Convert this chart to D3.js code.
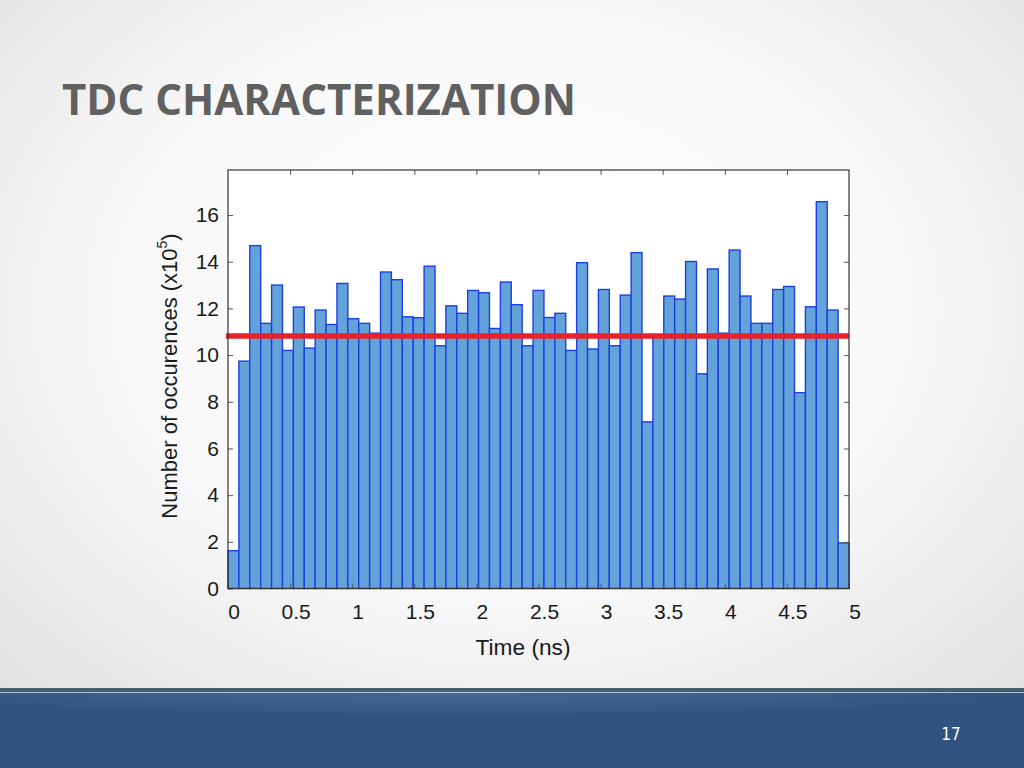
<!DOCTYPE html>
<html>
<head>
<meta charset="utf-8">
<script src="https://cdn.jsdelivr.net/npm/d3@7"></script>
<style>
  html, body { margin: 0; padding: 0; background: #fff; }
  svg { display: block; }
</style>
</head>
<body>
<svg id="chart" width="1024" height="768"></svg>
<script>
// ---------- data ----------
const slideTitle = "TDC CHARACTERIZATION";
const pageNumber = "17";
const xTickValues = [0, 0.5, 1, 1.5, 2, 2.5, 3, 3.5, 4, 4.5, 5];
const xTickLabels = ["0", "0.5", "1", "1.5", "2", "2.5", "3", "3.5", "4", "4.5", "5"];
const yTickValues = [0, 2, 4, 6, 8, 10, 12, 14, 16];
const xDomain = [0, 5];          // Time (ns)
const yDomain = [0, 17.93];      // occurrences (x10^5)
// histogram counts (x10^5), 57 equal bins spanning 0–5 ns
const counts = [
  1.62, 9.74, 14.69, 11.36, 13.0, 10.2, 12.06, 10.3, 11.93, 11.31,
  13.07, 11.56, 11.36, 10.94, 13.56, 13.23, 11.64, 11.6, 13.81, 10.4,
  12.11, 11.79, 12.77, 12.67, 11.14, 13.13, 12.16, 10.4, 12.77, 11.61,
  11.79, 10.2, 13.96, 10.26, 12.81, 10.4, 12.57, 14.39, 7.14, 10.85,
  12.53, 12.4, 14.01, 9.2, 13.69, 10.94, 14.5, 12.53, 11.36, 11.36,
  12.81, 12.94, 8.39, 12.07, 16.57, 11.93, 1.95
];
const meanLevel = [10.82];       // red reference line
const xTitle = "Time (ns)";

// ---------- drawing ----------
const svg = d3.select("#chart");
const defs = svg.append("defs");

const bg = defs.append("radialGradient").attr("id", "bg")
  .attr("cx", "50%").attr("cy", "40%").attr("r", "70%");
bg.append("stop").attr("offset", "0%").attr("stop-color", "#ffffff");
bg.append("stop").attr("offset", "55%").attr("stop-color", "#f8f8f8");
bg.append("stop").attr("offset", "100%").attr("stop-color", "#e2e2e2");

const foot = defs.append("radialGradient").attr("id", "foot")
  .attr("cx", "45%").attr("cy", "0%").attr("r", "60%")
  .attr("gradientTransform", "scale(1,0.6)");
foot.append("stop").attr("offset", "0%").attr("stop-color", "#4a6c97");
foot.append("stop").attr("offset", "100%").attr("stop-color", "#32537f");

svg.append("rect").attr("width", 1024).attr("height", 768).attr("fill", "url(#bg)");

// footer band
svg.append("rect").attr("x", 0).attr("y", 688).attr("width", 1024).attr("height", 80)
  .attr("fill", "url(#foot)");
svg.append("rect").attr("x", 0).attr("y", 688).attr("width", 1024).attr("height", 3)
  .attr("fill", "#44606f");
svg.append("rect").attr("x", 0).attr("y", 692).attr("width", 1024).attr("height", 1)
  .attr("fill", "#a9c3d6");
svg.append("text").attr("x", 951).attr("y", 740).attr("text-anchor", "middle")
  .attr("font-family", "Liberation Sans Narrow, DejaVu Sans Condensed, sans-serif")
  .attr("font-size", 17).attr("fill", "#ffffff").text(pageNumber);

// title
svg.append("text").attr("x", 62).attr("y", 115)
  .attr("font-family", "Open Sans, sans-serif").attr("font-weight", 700)
  .attr("font-size", 43).attr("fill", "#606060")
  .attr("textLength", 514).attr("lengthAdjust", "spacingAndGlyphs")
  .text(slideTitle);

// plot
const x = d3.scaleLinear().domain(xDomain).range([228, 849]);
const y = d3.scaleLinear().domain(yDomain).range([588.5, 170]);
const binW = (xDomain[1] - xDomain[0]) / counts.length;

svg.append("rect").attr("x", 228).attr("y", 170).attr("width", 621).attr("height", 418.5)
  .attr("fill", "#ffffff");

const g = svg.append("g");
g.selectAll("rect.bar").data(counts).join("rect")
  .attr("class", "bar")
  .attr("x", (d, i) => x(i * binW))
  .attr("width", (d, i) => x((i + 1) * binW) - x(i * binW))
  .attr("y", d => y(d))
  .attr("height", d => y(0) - y(d))
  .attr("fill", "#64a3da")
  .attr("stroke", "#1c3fe0")
  .attr("stroke-width", 1.4);

// red line
svg.selectAll("line.mean").data(meanLevel).join("line")
  .attr("class", "mean")
  .attr("x1", 226).attr("x2", 849)
  .attr("y1", d => y(d)).attr("y2", d => y(d))
  .attr("stroke", "#e8222b").attr("stroke-width", 5.5);

// axes
const axisFont = "Liberation Sans, Arial, sans-serif";
const styleAxis = sel => {
  sel.select(".domain").remove();
  sel.selectAll(".tick line").attr("stroke", "#555").attr("stroke-width", 1);
  sel.selectAll(".tick text").attr("font-family", axisFont).attr("font-size", 21).attr("fill", "#1a1a1a");
};

svg.append("g").attr("transform", "translate(228,0)")
  .call(d3.axisLeft(y).tickValues(yTickValues).tickSizeInner(-5).tickSizeOuter(0).tickPadding(9))
  .call(styleAxis);
svg.append("g").attr("transform", "translate(849,0)")
  .call(d3.axisRight(y).tickValues(yTickValues.filter(v => v > 0)).tickSizeInner(-5).tickSizeOuter(0).tickFormat(""))
  .call(styleAxis);
const xb = svg.append("g").attr("transform", "translate(0,588.5)")
  .call(d3.axisBottom(x).tickValues(xTickValues).tickSizeInner(-5).tickSizeOuter(0).tickPadding(16)
    .tickFormat((d, i) => xTickLabels[i]))
  .call(styleAxis);
xb.selectAll(".tick text").attr("dx", 5.5);
svg.append("g").attr("transform", "translate(0,170)")
  .call(d3.axisTop(x).tickValues(xTickValues.slice(1, -1)).tickSizeInner(-5).tickSizeOuter(0).tickFormat(""))
  .call(styleAxis);

// frame
svg.append("rect").attr("x", 228).attr("y", 170).attr("width", 621).attr("height", 418.5)
  .attr("fill", "none").attr("stroke", "#333").attr("stroke-width", 1.2);

// axis titles
svg.append("text").attr("x", 523).attr("y", 655).attr("text-anchor", "middle")
  .attr("font-family", axisFont).attr("font-size", 22).attr("fill", "#1a1a1a")
  .attr("textLength", 95).attr("lengthAdjust", "spacingAndGlyphs").text(xTitle);

const yt = svg.append("text")
  .attr("transform", "translate(177,376) rotate(-90)")
  .attr("text-anchor", "middle")
  .attr("font-family", axisFont).attr("font-size", 22).attr("fill", "#1a1a1a");
yt.append("tspan").text("Number of occurences (x10");
yt.append("tspan").attr("font-size", 14).attr("dy", -10).text("5");
yt.append("tspan").attr("dy", 10).text(")");
</script>
</body>
</html>
